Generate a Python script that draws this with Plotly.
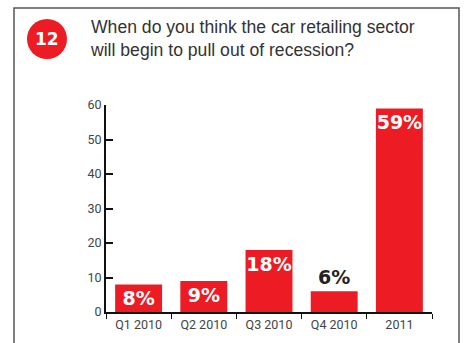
import plotly.graph_objects as go

categories = ["Q1 2010", "Q2 2010", "Q3 2010", "Q4 2010", "2011"]
values = [8, 9, 18, 6, 59]
labels = ["8%", "9%", "18%", "6%", "59%"]
label_pos = ["inside", "inside", "inside", "outside", "inside"]
label_colors = ["white", "white", "white", "#222222", "white"]

RED = "#ED1C24"
W, H = 467, 343
ML, MR, MT, MB = 106, 35, 105, 31
pw, ph = W - ML - MR, H - MT - MB

def px(x):
    return (x - ML) / pw

def py(y):
    return (H - MB - y) / ph

TICKFONT = dict(family="Roboto", size=12.5, color="#444")

fig = go.Figure(go.Bar(
    x=categories, y=values, marker_color=RED, marker_line_width=0,
    text=labels, textposition=label_pos, textangle=0,
    insidetextanchor="end", constraintext="none",
    textfont=dict(family="DejaVu Sans", size=19, color=label_colors),
    texttemplate="<b>%{text}</b>", cliponaxis=False,
))

fig.update_layout(
    width=W, height=H, margin=dict(l=ML, r=MR, t=MT, b=MB),
    paper_bgcolor="white", plot_bgcolor="white", bargap=0.28,
    showlegend=False, uniformtext=dict(mode=False),
    xaxis=dict(range=[-0.5, 4.5], showline=True, linecolor="#111", linewidth=1.5,
               ticks="outside", tickson="boundaries", ticklen=5, tickcolor="#111",
               tickwidth=1.2, showgrid=False, tickfont=TICKFONT),
    yaxis=dict(range=[0, 60], dtick=10, showline=True, linecolor="#111", linewidth=2,
               ticks="inside", ticklen=7, tickwidth=2, tickcolor="#111", showgrid=False,
               zeroline=False, tickfont=TICKFONT),
    font=dict(family="Liberation Sans"),
)

# frame
fig.add_shape(type="rect", xref="paper", yref="paper",
              x0=px(14), x1=px(459), y0=py(360), y1=py(8),
              line=dict(color="#555", width=1.5), fillcolor="rgba(0,0,0,0)", layer="below")
# badge circle
fig.add_shape(type="circle", xref="paper", yref="paper",
              x0=px(27), x1=px(67), y0=py(59), y1=py(19),
              line=dict(width=0), fillcolor=RED)
fig.add_annotation(xref="paper", yref="paper", x=px(47), y=py(39), text="<b>12</b>",
                   showarrow=False, font=dict(family="DejaVu Sans", size=17, color="white"),
                   xanchor="center", yanchor="middle")
fig.add_annotation(xref="paper", yref="paper", x=px(88), y=py(15), text=
                   "When do you think the car retailing sector<br>will begin to pull out of recession?",
                   showarrow=False, align="left", xanchor="left", yanchor="top",
                   font=dict(family="Liberation Sans", size=17.6, color="#333"))

fig.write_html("out.html")
